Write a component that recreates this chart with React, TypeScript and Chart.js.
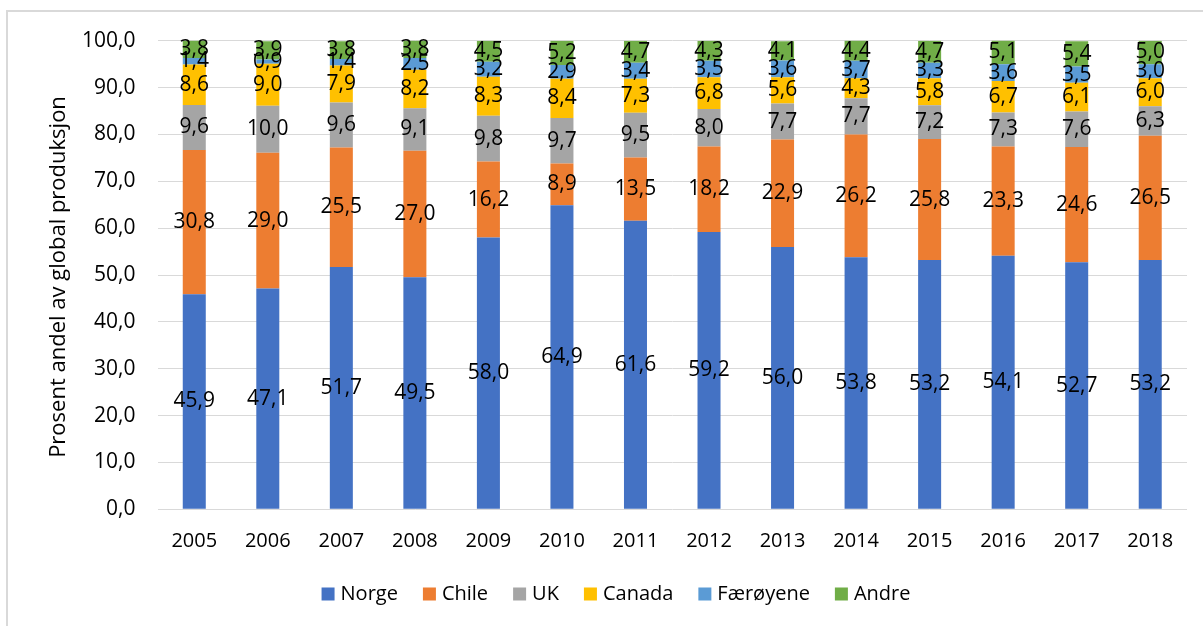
import React, { useEffect, useRef } from "react";
import { Chart, registerables } from "chart.js";

Chart.register(...registerables);

const years = ["2005", "2006", "2007", "2008", "2009", "2010", "2011", "2012", "2013", "2014", "2015", "2016", "2017", "2018"];
const norge = [45.9, 47.1, 51.7, 49.5, 58.0, 64.9, 61.6, 59.2, 56.0, 53.8, 53.2, 54.1, 52.7, 53.2];
const chile = [30.8, 29.0, 25.5, 27.0, 16.2, 8.9, 13.5, 18.2, 22.9, 26.2, 25.8, 23.3, 24.6, 26.5];
const uk = [9.6, 10.0, 9.6, 9.1, 9.8, 9.7, 9.5, 8.0, 7.7, 7.7, 7.2, 7.3, 7.6, 6.3];
const canada = [8.6, 9.0, 7.9, 8.2, 8.3, 8.4, 7.3, 6.8, 5.6, 4.3, 5.8, 6.7, 6.1, 6.0];
const faeroyene = [1.4, 0.9, 1.4, 2.5, 3.2, 2.9, 3.4, 3.5, 3.6, 3.7, 3.3, 3.6, 3.5, 3.0];
const andre = [3.8, 3.9, 3.8, 3.8, 4.5, 5.2, 4.7, 4.3, 4.1, 4.4, 4.7, 5.1, 5.4, 5.0];

const seriesNames = ["Norge", "Chile", "UK", "Canada", "Færøyene", "Andre"];
const seriesValues = [norge, chile, uk, canada, faeroyene, andre];
const seriesColors = ["#4472C4", "#ED7D31", "#A5A5A5", "#FFC000", "#5B9BD5", "#70AD47"];
const yMin = 0;
const yMax = 100;
const yStep = 10;
const yTitle = "Prosent andel av global produksjon";

const FONT = "'Open Sans', 'Noto Sans', sans-serif";
const TEXT_SIZE = 20;
const LABEL_SIZE = 21;
const TITLE_SIZE = 22;

const fmt = (v: number) => v.toFixed(1).replace(".", ",");

const dataLabelPlugin = {
  id: "dataLabels",
  afterDatasetsDraw(chart: any) {
    const ctx = chart.ctx;
    ctx.save();
    ctx.font = `${LABEL_SIZE}px ${FONT}`;
    ctx.fillStyle = "#000000";
    ctx.textAlign = "center";
    ctx.textBaseline = "middle";
    chart.data.datasets.forEach((ds: any, di: number) => {
      const meta = chart.getDatasetMeta(di);
      meta.data.forEach((el: any, i: number) => {
        const v = ds.data[i];
        const cy = (el.y + el.base) / 2;
        ctx.fillText(fmt(v), el.x, cy);
      });
    });
    ctx.restore();
  },
};

const titleLegendPlugin = {
  id: "titleLegend",
  afterDraw(chart: any) {
    const ctx = chart.ctx;
    const area = chart.chartArea;
    ctx.save();
    ctx.font = `${TITLE_SIZE}px ${FONT}`;
    ctx.fillStyle = "#000000";
    ctx.textAlign = "center";
    ctx.textBaseline = "middle";
    ctx.translate(59, (area.top + area.bottom) / 2 + 2);
    ctx.rotate(-Math.PI / 2);
    ctx.fillText(yTitle, 0, 0);
    ctx.restore();

    ctx.save();
    ctx.font = `${TEXT_SIZE}px ${FONT}`;
    ctx.textBaseline = "middle";
    ctx.textAlign = "left";
    const box = 13;
    const gap = 6;
    const spacing = 25;
    const widths = seriesNames.map((n) => ctx.measureText(n).width);
    const total = widths.reduce((a, w) => a + box + gap + w, 0) + spacing * (seriesNames.length - 1);
    let x = 616 - total / 2;
    const cy = 594;
    seriesNames.forEach((n, i) => {
      ctx.fillStyle = seriesColors[i];
      ctx.fillRect(x, cy - box / 2, box, box);
      ctx.fillStyle = "#000000";
      ctx.fillText(n, x + box + gap, cy);
      x += box + gap + widths[i] + spacing;
    });
    ctx.restore();
  },
};

export default function App() {
  const canvasRef = useRef<HTMLCanvasElement | null>(null);

  useEffect(() => {
    const canvas = canvasRef.current;
    if (!canvas) return;
    const chart = new Chart(canvas, {
      type: "bar",
      data: {
        labels: years,
        datasets: seriesNames.map((name, i) => ({
          label: name,
          data: seriesValues[i],
          backgroundColor: seriesColors[i],
          borderWidth: 0,
          categoryPercentage: 1,
          barPercentage: 0.313,
        })),
      },
      options: {
        responsive: false,
        animation: false,
        devicePixelRatio: 1,
        layout: { padding: { left: 0, right: 16, top: 40.7, bottom: 0 } },
        plugins: {
          legend: { display: false },
          tooltip: { enabled: false },
          title: { display: false },
        },
        scales: {
          x: {
            stacked: true,
            grid: { display: false, drawTicks: false },
            border: { display: false },
            ticks: {
              font: { size: TEXT_SIZE, family: FONT },
              color: "#000000",
              padding: 20,
              maxRotation: 0,
              autoSkip: false,
            },
            afterFit: (s: any) => {
              s.height = 116.7;
            },
          },
          y: {
            stacked: true,
            min: yMin,
            max: yMax,
            ticks: {
              stepSize: yStep,
              font: { size: LABEL_SIZE, family: FONT },
              color: "#000000",
              padding: 22,
              callback: (v: any) => fmt(Number(v)),
            },
            grid: { color: "#D9D9D9", drawTicks: false, lineWidth: 1 },
            border: { display: false },
            afterFit: (s: any) => {
              s.width = 157.5;
            },
          },
        },
      },
      plugins: [dataLabelPlugin, titleLegendPlugin],
    });
    return () => chart.destroy();
  }, []);

  return (
    <>
      <div
        style={{
          position: "fixed",
          left: 6,
          top: 10,
          right: 0,
          bottom: 0,
          borderLeft: "2px solid #D9D9D9",
          borderTop: "2px solid #D9D9D9",
          pointerEvents: "none",
        }}
      />
      <canvas
        ref={canvasRef}
        width={1203}
        height={626}
        style={{ position: "fixed", left: 0, top: 0, width: 1203, height: 626, display: "block" }}
      />
    </>
  );
}
